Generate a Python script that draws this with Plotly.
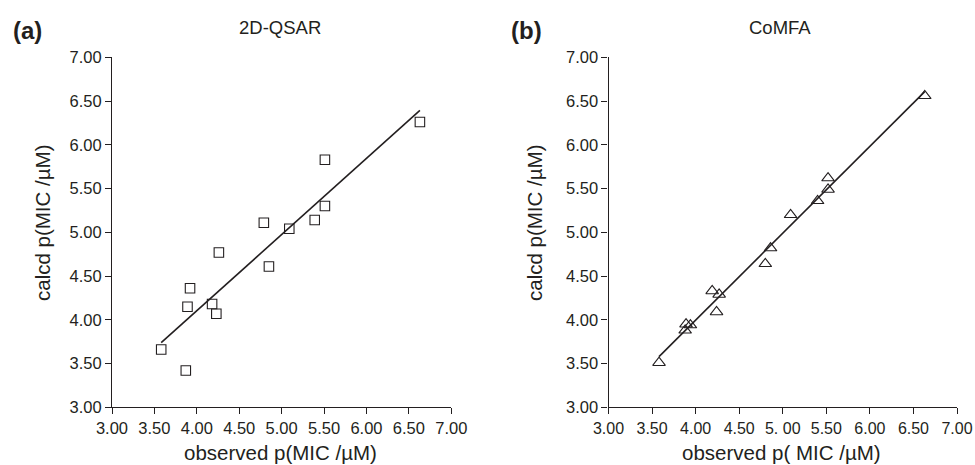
import numpy as np
import plotly.graph_objects as go

# Panel (a) 2D-QSAR
qsar_obs = [3.58, 3.87, 3.89, 3.92, 4.18, 4.23, 4.26, 4.79, 4.85, 5.09, 5.39, 5.51, 5.51, 6.63]
qsar_calc = [3.66, 3.42, 4.15, 4.36, 4.18, 4.07, 4.77, 5.11, 4.61, 5.04, 5.14, 5.83, 5.30, 6.26]
# Panel (b) CoMFA
comfa_obs = [3.58, 3.88, 3.89, 3.94, 4.19, 4.27, 4.24, 4.80, 4.86, 5.09, 5.40, 5.52, 5.52, 6.63]
comfa_calc = [3.51, 3.88, 3.95, 3.94, 4.33, 4.29, 4.09, 4.64, 4.82, 5.20, 5.36, 5.62, 5.49, 6.56]

tick_vals = [3.0, 3.5, 4.0, 4.5, 5.0, 5.5, 6.0, 6.5, 7.0]
tick_text_a = ["3.00", "3.50", "4.00", "4.50", "5.00", "5.50", "6.00", "6.50", "7.00"]
tick_text_b = ["3.00", "3.50", "4.00", "4.50", "5. 00", "5.50", "6.00", "6.50", "7.00"]

FONT = "Liberation Sans, Arial, sans-serif"
INK = "#231f20"

W, H = 975, 465


def px(X):
    return X / W


def py(Y):
    return 1 - Y / H


def fit_line(x, y):
    m, c = np.polyfit(x, y, 1)
    xs = np.array([min(x), max(x)])
    return xs, m * xs + c


fig = go.Figure()

fa_x, fa_y = fit_line(qsar_obs, qsar_calc)
fb_x, fb_y = fit_line(comfa_obs, comfa_calc)

fig.add_trace(go.Scatter(x=fa_x, y=fa_y, mode="lines", line=dict(color=INK, width=1.6),
                         xaxis="x", yaxis="y", showlegend=False))
fig.add_trace(go.Scatter(x=qsar_obs, y=qsar_calc, mode="markers",
                         marker=dict(symbol="square-open", size=9.5, color=INK, line=dict(width=1.1)),
                         xaxis="x", yaxis="y", showlegend=False))
fig.add_trace(go.Scatter(x=fb_x, y=fb_y, mode="lines", line=dict(color=INK, width=1.6),
                         xaxis="x2", yaxis="y2", showlegend=False))
fig.add_trace(go.Scatter(x=comfa_obs, y=comfa_calc, mode="markers",
                         marker=dict(symbol="triangle-up-open", size=11, color=INK, line=dict(width=1.1)),
                         xaxis="x2", yaxis="y2", showlegend=False))

axis_common = dict(range=[3.0, 7.0], tickvals=tick_vals, showgrid=False, zeroline=False,
                   showline=True, linecolor=INK, linewidth=1.2, ticks="outside", ticklen=6,
                   tickwidth=1.2, tickcolor=INK, automargin=False, ticklabeloverflow="allow")

tf = dict(family=FONT, size=16.5, color=INK)
tf_b = dict(family=FONT, size=16, color=INK)

ydom = [py(407.3), py(57.3)]
fig.update_layout(
    width=W, height=H,
    margin=dict(l=0, r=0, t=0, b=0, pad=0, autoexpand=False),
    paper_bgcolor="white", plot_bgcolor="white",
    xaxis=dict(domain=[px(112), px(451.3)], anchor="y", ticktext=tick_text_a, tickfont=tf, **axis_common),
    yaxis=dict(domain=ydom, anchor="x", ticktext=tick_text_a, tickfont=tf, **axis_common),
    xaxis2=dict(domain=[px(608.5), px(957)], anchor="y2", ticktext=tick_text_b, tickfont=tf_b,
                **axis_common),
    yaxis2=dict(domain=ydom, anchor="x2", ticktext=tick_text_a, tickfont=tf, **axis_common),
)


def ann(text, x, y, size, bold=False, angle=0, xanchor="center"):
    fig.add_annotation(text=f"<b>{text}</b>" if bold else text, x=px(x), y=py(y),
                       xref="paper", yref="paper", showarrow=False, xanchor=xanchor, yanchor="middle",
                       textangle=angle, font=dict(family=FONT, size=size, color=INK))


ann("(a)", 11, 31, 24, bold=True, xanchor="left")
ann("2D-QSAR", 280, 27, 18.5)
ann("(b)", 509, 31, 24, bold=True, xanchor="left")
ann("CoMFA", 780, 27, 18.5)
ann("calcd p(MIC /µM)", 43, 223, 20.5, angle=-90)
ann("calcd p(MIC /µM)", 535, 223, 20.5, angle=-90)
ann("observed p(MIC /µM)", 280, 452, 20.5)
ann("observed p( MIC /µM)", 781, 452, 20.5)

fig.write_html("out.html", config={"displayModeBar": False},
               post_script="document.body.style.margin='0';document.body.style.overflow='hidden';")
